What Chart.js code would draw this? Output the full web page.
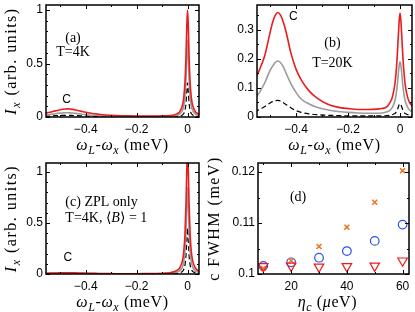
<!DOCTYPE html>
<html>
<head>
<meta charset="utf-8">
<script src="https://cdn.jsdelivr.net/npm/chart.js@4.4.0/dist/chart.umd.min.js"></script>
<style>
  body { margin: 0; background: #fff; width: 415px; height: 312px; overflow: hidden; position: relative; }
  canvas { position: absolute; }
</style>
</head>
<body>
<canvas id="chartA" width="207" height="156" style="left:0;top:0"></canvas>
<canvas id="chartB" width="208" height="156" style="left:207px;top:0"></canvas>
<canvas id="chartC" width="207" height="156" style="left:0;top:156px"></canvas>
<canvas id="chartD" width="208" height="156" style="left:207px;top:156px"></canvas>
<script>
// detuning omega_L - omega_x (meV), shared by panels a, b, c
const detuning = [-0.56, -0.54, -0.52, -0.50, -0.49, -0.48, -0.47, -0.46, -0.45, -0.44, -0.42, -0.40, -0.38, -0.35, -0.32, -0.28, -0.24, -0.20, -0.16, -0.12, -0.09, -0.07, -0.05, -0.04, -0.03, -0.02, -0.015, -0.01, -0.006, -0.003, 0, 0.003, 0.006, 0.01, 0.015, 0.02, 0.03, 0.04, 0.05];

// (a) T=4K
const redA = [0.035, 0.045, 0.057, 0.068, 0.072, 0.075, 0.076, 0.074, 0.071, 0.066, 0.055, 0.044, 0.035, 0.026, 0.019, 0.014, 0.011, 0.009, 0.008, 0.009, 0.011, 0.014, 0.022, 0.032, 0.053, 0.11, 0.18, 0.33, 0.576, 0.845, 1.0, 0.845, 0.576, 0.33, 0.18, 0.11, 0.053, 0.032, 0.022];
const grayA = [0.018, 0.024, 0.031, 0.036, 0.038, 0.040, 0.040, 0.039, 0.037, 0.034, 0.028, 0.022, 0.017, 0.012, 0.009, 0.006, 0.005, 0.004, 0.004, 0.004, 0.005, 0.006, 0.010, 0.017, 0.029, 0.061, 0.10, 0.19, 0.36, 0.576, 0.72, 0.576, 0.36, 0.19, 0.10, 0.061, 0.029, 0.017, 0.011];
const blackA = [0.007, 0.009, 0.012, 0.014, 0.015, 0.015, 0.015, 0.015, 0.014, 0.013, 0.011, 0.008, 0.006, 0.004, 0.003, 0.002, 0.002, 0.002, 0.002, 0.002, 0.002, 0.002, 0.003, 0.005, 0.009, 0.019, 0.032, 0.064, 0.131, 0.235, 0.32, 0.235, 0.131, 0.064, 0.032, 0.019, 0.009, 0.005, 0.003];

// (b) T=20K
const redB = [0.125, 0.164, 0.212, 0.29, 0.326, 0.35, 0.36, 0.352, 0.33, 0.30, 0.222, 0.165, 0.128, 0.09, 0.066, 0.045, 0.034, 0.029, 0.026, 0.026, 0.027, 0.029, 0.036, 0.048, 0.067, 0.112, 0.155, 0.222, 0.29, 0.335, 0.358, 0.335, 0.29, 0.222, 0.155, 0.11, 0.065, 0.045, 0.035];
const grayB = [0.062, 0.085, 0.118, 0.16, 0.175, 0.188, 0.193, 0.188, 0.175, 0.155, 0.115, 0.085, 0.062, 0.045, 0.034, 0.025, 0.019, 0.016, 0.014, 0.013, 0.013, 0.014, 0.018, 0.022, 0.032, 0.055, 0.078, 0.115, 0.155, 0.18, 0.19, 0.18, 0.155, 0.115, 0.078, 0.055, 0.032, 0.022, 0.017];
const blackB = [0.018, 0.026, 0.036, 0.048, 0.053, 0.056, 0.057, 0.055, 0.05, 0.044, 0.032, 0.022, 0.016, 0.011, 0.008, 0.006, 0.005, 0.004, 0.004, 0.004, 0.004, 0.004, 0.005, 0.006, 0.008, 0.012, 0.017, 0.026, 0.036, 0.043, 0.046, 0.043, 0.036, 0.026, 0.017, 0.012, 0.008, 0.006, 0.005];

// (c) ZPL only
const redC = [0.007, 0.009, 0.010, 0.011, 0.012, 0.012, 0.012, 0.012, 0.012, 0.011, 0.010, 0.008, 0.007, 0.005, 0.004, 0.003, 0.003, 0.003, 0.004, 0.005, 0.008, 0.013, 0.025, 0.037, 0.063, 0.131, 0.216, 0.395, 0.69, 1.01, 1.2, 1.01, 0.69, 0.395, 0.216, 0.131, 0.062, 0.036, 0.024];
const grayC = [0.004, 0.005, 0.006, 0.006, 0.006, 0.006, 0.006, 0.006, 0.006, 0.006, 0.005, 0.004, 0.004, 0.003, 0.002, 0.002, 0.002, 0.002, 0.002, 0.003, 0.004, 0.006, 0.012, 0.019, 0.033, 0.07, 0.117, 0.225, 0.425, 0.68, 0.85, 0.68, 0.425, 0.225, 0.117, 0.07, 0.033, 0.019, 0.012];
const blackC = [0.001, 0.001, 0.002, 0.002, 0.002, 0.002, 0.002, 0.002, 0.002, 0.002, 0.002, 0.001, 0.001, 0.001, 0.001, 0.001, 0.001, 0.001, 0.001, 0.001, 0.001, 0.002, 0.004, 0.007, 0.012, 0.026, 0.045, 0.09, 0.184, 0.33, 0.45, 0.33, 0.184, 0.09, 0.045, 0.026, 0.012, 0.007, 0.004];

// (d) FWHM against eta_c
const eta = [10, 20, 30, 40, 50, 60];
const fwhmCross = [0.1011, 0.1026, 0.1054, 0.1092, 0.1141, 0.1203];
const fwhmCircle = [0.1016, 0.1023, 0.1032, 0.1045, 0.1065, 0.1097];
const fwhmTriangle = [0.1015, 0.1016, 0.1014, 0.1015, 0.1016, 0.1026];

// ticks
const xTicksLine = [-0.4, -0.2, 0];
const xMinorLine = [-0.5, -0.3, -0.1];
const yTicksA = [0, 0.5, 1];
const yMinorA = [0.1, 0.2, 0.3, 0.4, 0.6, 0.7, 0.8, 0.9];
const yTicksB = [0, 0.1, 0.2, 0.3];
const yMinorB = [0.05, 0.15, 0.25, 0.35];
const xTicksD = [20, 40, 60];
const xMinorD = [10, 30, 50];
const yTicksD = [0.1, 0.11, 0.12];
const yMinorD = [0.105, 0.115];

const RED = 'rgb(236, 28, 28)';
const GRAY = 'rgb(155, 155, 155)';
const SERIF = '"Liberation Serif", "DejaVu Serif", serif';
const SANS = '"Liberation Sans", Arial, sans-serif';

function fontOf(style, size) {
  let sub = style.includes('s');
  return (style.includes('i') ? 'italic ' : '') + (sub ? Math.round(size * 0.72) : size) + 'px ' + SERIF;
}

function drawRich(ctx, parts, x, y, size, align, spacing) {
  ctx.letterSpacing = (spacing || 0) + 'px';
  let w = 0;
  for (const [t, s] of parts) { ctx.font = fontOf(s, size); w += ctx.measureText(t).width; }
  let cx = align === 'left' ? x : x - w / 2;
  for (const [t, s] of parts) {
    ctx.font = fontOf(s, size);
    ctx.fillText(t, cx, y + (s.includes('s') ? size * 0.28 : 0));
    cx += ctx.measureText(t).width;
  }
  ctx.letterSpacing = '0px';
}

function makeFrame(cfg) {
  return {
    id: 'frame',
    afterDraw(chart) {
      const ctx = chart.ctx;
      const a = chart.chartArea;
      const xs = chart.scales.x, ys = chart.scales.y;
      ctx.save();
      ctx.strokeStyle = '#000';
      ctx.lineWidth = 1;
      ctx.beginPath();
      const xt = (vals, len) => vals.forEach(v => {
        const p = Math.round(xs.getPixelForValue(v)) + 0.5;
        ctx.moveTo(p, a.bottom); ctx.lineTo(p, a.bottom - len);
        ctx.moveTo(p, a.top); ctx.lineTo(p, a.top + len);
      });
      const yt = (vals, len) => vals.forEach(v => {
        const p = Math.round(ys.getPixelForValue(v)) + 0.5;
        ctx.moveTo(a.left, p); ctx.lineTo(a.left + len, p);
        ctx.moveTo(a.right, p); ctx.lineTo(a.right - len, p);
      });
      xt(cfg.xTicks, 4); xt(cfg.xMinor, 2);
      yt(cfg.yTicks, 4); yt(cfg.yMinor, 2);
      ctx.stroke();
      ctx.lineWidth = 1.5;
      ctx.strokeRect(a.left, a.top, a.right - a.left, a.bottom - a.top);

      ctx.fillStyle = '#000';
      ctx.textBaseline = 'middle';
      ctx.textAlign = 'left';
      cfg.notes.forEach(n => {
        const px = xs.getPixelForValue(n.x), py = ys.getPixelForValue(n.y);
        if (n.sans) {
          ctx.font = n.size + 'px ' + SANS;
          ctx.textAlign = 'center';
          ctx.fillText(n.parts, px, py);
          ctx.textAlign = 'left';
        } else {
          drawRich(ctx, n.parts, px, py, n.size, n.align);
        }
      });
      drawRich(ctx, cfg.xTitle, (a.left + a.right) / 2 + (cfg.xTitleShift || 0), a.bottom + 29, 16, 'center', 0.6);
      ctx.translate(cfg.yTitleX, (a.top + a.bottom) / 2);
      ctx.rotate(-Math.PI / 2);
      drawRich(ctx, cfg.yTitle, 0, 0, 16, 'center', 1.5);
      ctx.restore();
    }
  };
}

function fmt(v) {
  return v < 0 ? '\u2212' + Math.abs(v) : String(v);
}

function axes(xr, yr, xTicks, yTicks, yWidth, xHeight) {
  const tickFont = { family: SANS, size: 12 };
  return {
    x: {
      type: 'linear', min: xr[0], max: xr[1],
      grid: { display: false, drawTicks: false }, border: { display: false },
      ticks: { color: '#000', font: tickFont, padding: 5, maxRotation: 0, autoSkip: false, callback: fmt },
      afterBuildTicks: s => { s.ticks = xTicks.map(v => ({ value: v })); },
      afterFit: s => { s.height = xHeight; s.paddingLeft = 0; s.paddingRight = 0; }
    },
    y: {
      type: 'linear', min: yr[0], max: yr[1],
      grid: { display: false, drawTicks: false }, border: { display: false },
      ticks: { color: '#000', font: tickFont, padding: 3, autoSkip: false, callback: fmt },
      afterBuildTicks: s => { s.ticks = yTicks.map(v => ({ value: v })); },
      afterFit: s => { s.width = yWidth; s.paddingTop = 0; s.paddingBottom = 0; }
    }
  };
}

function lineSets(red, gray, black) {
  const pts = arr => detuning.map((x, i) => ({ x: x, y: arr[i] }));
  return [
    { data: pts(red), borderColor: RED, borderWidth: 1.6 },
    { data: pts(gray), borderColor: GRAY, borderWidth: 1.6 },
    { data: pts(black), borderColor: '#000', borderWidth: 1.2, borderDash: [5, 3] }
  ].map(d => Object.assign(d, { pointRadius: 0, cubicInterpolationMode: 'monotone', fill: false }));
}

function common(padding) {
  return {
    responsive: false, animation: false, devicePixelRatio: 1,
    layout: { padding: padding, autoPadding: false },
    plugins: { legend: { display: false }, tooltip: { enabled: false } }
  };
}

const omegaTitle = [['\u03c9', 'i'], ['L', 'is'], ['-', ''], ['\u03c9', 'i'], ['x', 'is'], [' (meV)', '']];
const intensityTitle = [['I', 'i'], ['x', 'is'], [' (arb. units)', '']];

// panel (a)
new Chart(document.getElementById('chartA'), {
  type: 'line',
  data: { datasets: lineSets(redA, grayA, blackA) },
  options: Object.assign(common({ top: 5, right: 8, left: 0, bottom: 0 }), {
    scales: axes([-0.556, 0.045], [0, 1.047], xTicksLine, yTicksA, 46, 39)
  }),
  plugins: [makeFrame({
    xTicks: xTicksLine, xMinor: xMinorLine, yTicks: yTicksA, yMinor: yMinorA,
    xTitle: omegaTitle, yTitle: intensityTitle, yTitleX: 12,
    notes: [
      { parts: [['(a)', '']], x: -0.45, y: 0.74, size: 14 },
      { parts: [['T=4K', '']], x: -0.45, y: 0.6, size: 14 },
      { parts: 'C', sans: true, x: -0.475, y: 0.16, size: 12 }
    ]
  })]
});

// panel (b)
new Chart(document.getElementById('chartB'), {
  type: 'line',
  data: { datasets: lineSets(redB, grayB, blackB) },
  options: Object.assign(common({ top: 5, right: 3, left: 0, bottom: 0 }), {
    scales: axes([-0.55, 0.046], [0, 0.386], xTicksLine, yTicksB, 50, 39)
  }),
  plugins: [makeFrame({
    xTicks: xTicksLine, xMinor: xMinorLine, yTicks: yTicksB, yMinor: yMinorB,
    xTitle: omegaTitle, yTitle: [], yTitleX: 10,
    notes: [
      { parts: 'C', sans: true, x: -0.41, y: 0.345, size: 12 },
      { parts: [['(b)', '']], x: -0.26, y: 0.255, size: 14 },
      { parts: [['T=20K', '']], x: -0.26, y: 0.186, size: 14 }
    ]
  })]
});

// panel (c)
new Chart(document.getElementById('chartC'), {
  type: 'line',
  data: { datasets: lineSets(redC, grayC, blackC) },
  options: Object.assign(common({ top: 7, right: 8, left: 0, bottom: 0 }), {
    scales: axes([-0.556, 0.045], [0, 1.088], xTicksLine, yTicksA, 46, 38)
  }),
  plugins: [makeFrame({
    xTicks: xTicksLine, xMinor: xMinorLine, yTicks: yTicksA, yMinor: yMinorA,
    xTitle: omegaTitle, yTitle: intensityTitle, yTitleX: 12,
    notes: [
      { parts: [['(c) ZPL only', '']], x: -0.48, y: 0.70, size: 14, align: 'left' },
      { parts: [['T=4K, \u27e8', ''], ['B', 'i'], ['\u27e9 = 1', '']], x: -0.48, y: 0.55, size: 14, align: 'left' },
      { parts: 'C', sans: true, x: -0.47, y: 0.157, size: 12 }
    ]
  })]
});

// panel (d)
const pts = arr => eta.map((x, i) => ({ x: x, y: arr[i] }));
new Chart(document.getElementById('chartD'), {
  type: 'scatter',
  data: {
    datasets: [
      { data: pts(fwhmTriangle), pointStyle: 'triangle', rotation: 180, pointRadius: 5.5, borderColor: RED, backgroundColor: 'rgba(0,0,0,0)', borderWidth: 1.2 },
      { data: pts(fwhmCross), pointStyle: 'crossRot', pointRadius: 3.5, borderColor: 'rgb(242, 112, 24)', borderWidth: 1.5 },
      { data: pts(fwhmCircle), pointStyle: 'circle', pointRadius: 4.3, borderColor: 'rgb(40, 80, 235)', backgroundColor: 'rgba(0,0,0,0)', borderWidth: 1.2 }
    ]
  },
  options: Object.assign(common({ top: 7, right: 6, left: 0, bottom: 0 }), {
    scales: axes([8.1, 62.3], [0.1, 0.1218], xTicksD, yTicksD, 51, 38)
  }),
  plugins: [makeFrame({
    xTicks: xTicksD, xMinor: xMinorD, yTicks: yTicksD, yMinor: yMinorD,
    xTitle: [['\u03b7', 'i'], ['c', 'is'], [' (', ''], ['\u03bc', 'i'], ['eV)', '']], xTitleShift: -6,
    yTitle: [['c FWHM (meV)', '']], yTitleX: 8,
    notes: [
      { parts: [['(d)', '']], x: 22.5, y: 0.1151, size: 14 }
    ]
  })]
});
</script>
</body>
</html>
